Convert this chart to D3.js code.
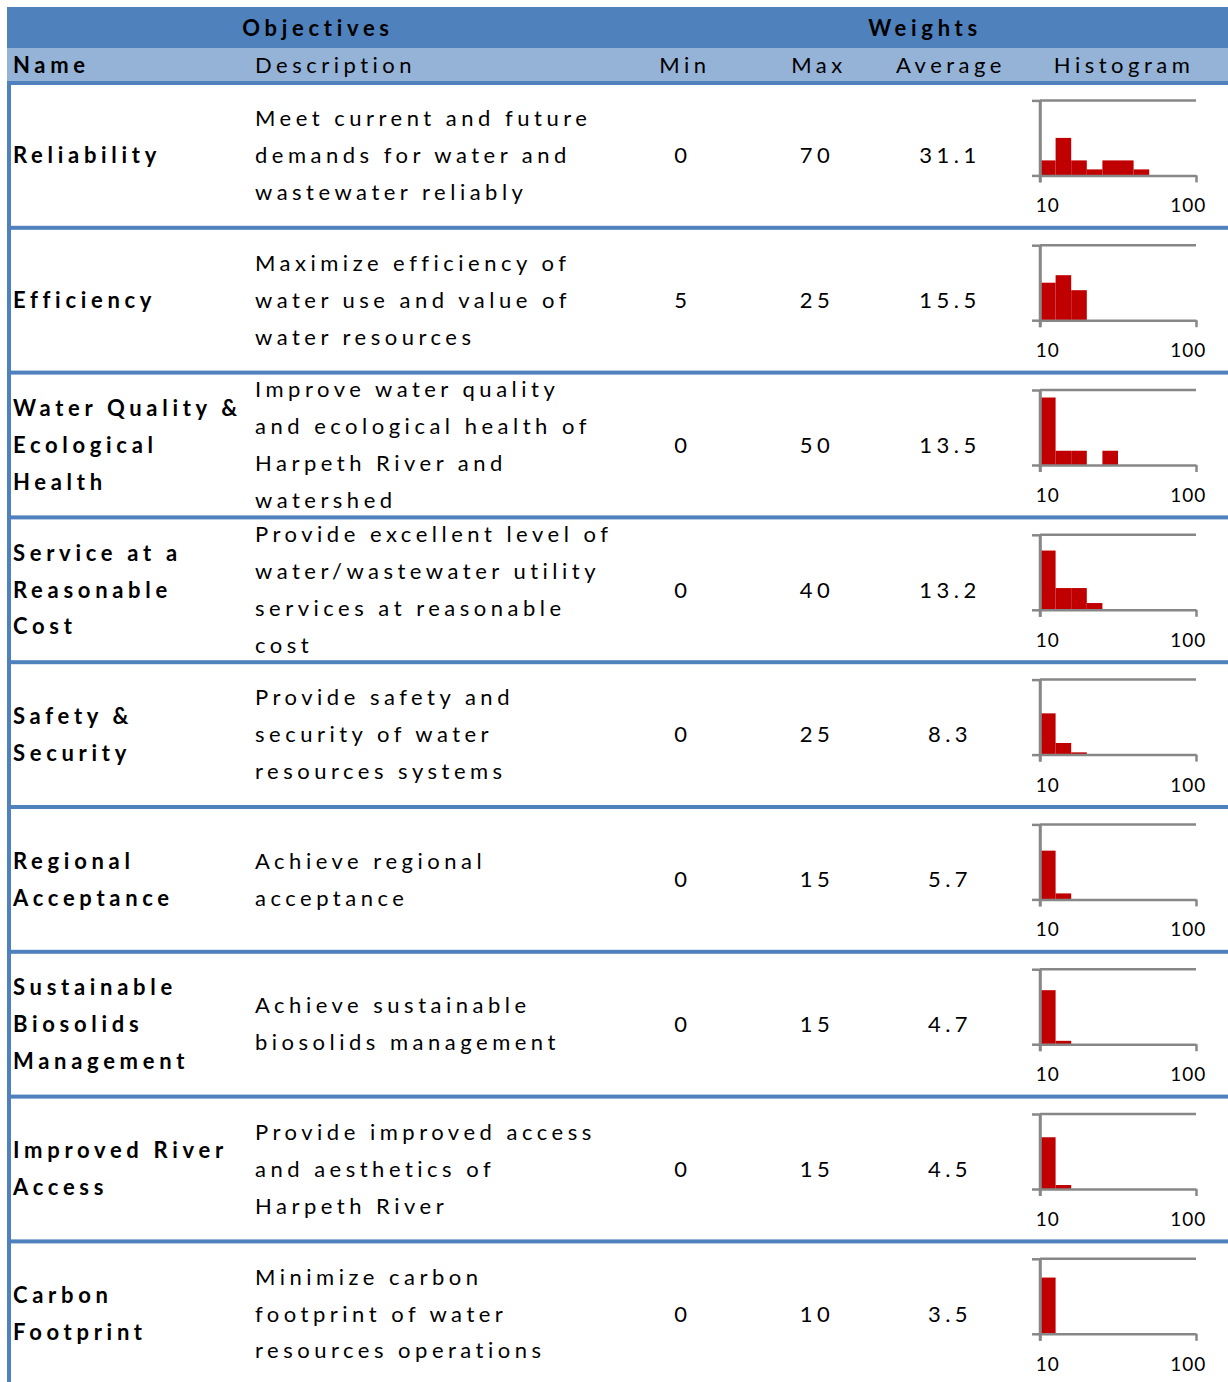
<!DOCTYPE html>
<html lang="en">
<head>
<meta charset="UTF-8">
<title>Objectives and Weights</title>
<script src="https://d3js.org/d3.v7.min.js"></script>
<style>
  body { margin: 0; background: #fff; }
  svg text { font-family: Lato, "Open Sans", sans-serif; fill: #000; }
  .cell { font-size: 22px; letter-spacing: 4.5px; }
  .bold { font-weight: bold; letter-spacing: 4.7px; }
  .tick-label { font-size: 19px; letter-spacing: 1px; }
</style>
</head>
<body>
<div id="table"></div>
<script>
// ---- data ----
const names = [
  ["Reliability"],
  ["Efficiency"],
  ["Water Quality &", "Ecological", "Health"],
  ["Service at a", "Reasonable", "Cost"],
  ["Safety &", "Security"],
  ["Regional", "Acceptance"],
  ["Sustainable", "Biosolids", "Management"],
  ["Improved River", "Access"],
  ["Carbon", "Footprint"]
];
const descriptions = [
  ["Meet current and future", "demands for water and", "wastewater reliably"],
  ["Maximize efficiency of", "water use and value of", "water resources"],
  ["Improve water quality", "and ecological health of", "Harpeth River and", "watershed"],
  ["Provide excellent level of", "water/wastewater utility", "services at reasonable", "cost"],
  ["Provide safety and", "security of water", "resources systems"],
  ["Achieve regional", "acceptance"],
  ["Achieve sustainable", "biosolids management"],
  ["Provide improved access", "and aesthetics of", "Harpeth River"],
  ["Minimize carbon", "footprint of water", "resources operations"]
];
const mins = [0, 5, 0, 0, 0, 0, 0, 0, 0];
const maxs = [70, 25, 50, 40, 25, 15, 15, 15, 10];
const avgs = ["31.1", "15.5", "13.5", "13.2", "8.3", "5.7", "4.7", "4.5", "3.5"];
const binLabels = ["10", "20", "30", "40", "50", "60", "70", "80", "90", "100"];
// share of the histogram's height, per bin
const histograms = [
  [0.20, 0.50, 0.20, 0.08, 0.20, 0.20, 0.08, 0, 0, 0],
  [0.50, 0.60, 0.40, 0, 0, 0, 0, 0, 0, 0],
  [0.90, 0.19, 0.19, 0, 0.19, 0, 0, 0, 0, 0],
  [0.79, 0.29, 0.29, 0.09, 0, 0, 0, 0, 0, 0],
  [0.55, 0.155, 0.03, 0, 0, 0, 0, 0, 0, 0],
  [0.65, 0.08, 0, 0, 0, 0, 0, 0, 0, 0],
  [0.72, 0.045, 0, 0, 0, 0, 0, 0, 0, 0],
  [0.69, 0.053, 0, 0, 0, 0, 0, 0, 0, 0],
  [0.75, 0, 0, 0, 0, 0, 0, 0, 0, 0]
];

const width = 1228, height = 1382;
const darkBlue = "#4F81BD", lightBlue = "#95B3D7", axisGray = "#878787", barRed = "#C00000";
const lineH = 37;
const trail = 2; // letter-spacing leaves a gap after the last glyph; nudge centred text

const svg = d3.select("#table").append("svg")
  .attr("width", width)
  .attr("height", height);

// header bands
svg.append("rect").attr("x", 7).attr("y", 7).attr("width", width - 7).attr("height", 41).attr("fill", darkBlue);
svg.append("rect").attr("x", 7).attr("y", 48).attr("width", width - 7).attr("height", 34).attr("fill", lightBlue);
svg.append("rect").attr("x", 7).attr("y", 81).attr("width", width - 7).attr("height", 4).attr("fill", darkBlue);

svg.append("text").attr("class", "cell bold").attr("x", 316 + trail).attr("y", 28).attr("dy", "0.35em")
  .attr("text-anchor", "middle").text("Objectives");
svg.append("text").attr("class", "cell bold").attr("x", 923 + trail).attr("y", 28).attr("dy", "0.35em")
  .attr("text-anchor", "middle").text("Weights");

const subHeads = [
  { t: "Name", x: 13, a: "start", b: true },
  { t: "Description", x: 255, a: "start", b: false },
  { t: "Min", x: 683 + trail, a: "middle", b: false },
  { t: "Max", x: 817 + trail, a: "middle", b: false },
  { t: "Average", x: 949 + trail, a: "middle", b: false },
  { t: "Histogram", x: 1122 + trail, a: "middle", b: false }
];
svg.selectAll(".subhead").data(subHeads).enter().append("text")
  .attr("class", d => "subhead cell" + (d.b ? " bold" : ""))
  .attr("x", d => d.x).attr("y", 65).attr("dy", "0.35em")
  .attr("text-anchor", d => d.a).text(d => d.t);

// rows
const rowIdx = d3.range(names.length);
const y = d3.scaleBand().domain(rowIdx).range([83, 83 + 144.8 * names.length]).padding(0);

svg.append("rect").attr("x", 7).attr("y", 83).attr("width", 4).attr("height", height - 83).attr("fill", darkBlue);

svg.selectAll(".sep").data(rowIdx).enter().append("rect")
  .attr("class", "sep")
  .attr("x", 7).attr("y", d => y(d) + y.bandwidth() - 2)
  .attr("width", width - 7).attr("height", 4).attr("fill", darkBlue);

const rows = svg.selectAll(".row").data(rowIdx).enter().append("g")
  .attr("class", "row")
  .attr("transform", d => `translate(0,${y(d) + y.bandwidth() / 2})`);

function multiline(sel, lines, x, cls) {
  sel.selectAll("text." + cls.split(" ")[0]).data(lines).enter().append("text")
    .attr("class", "cell " + cls)
    .attr("x", x)
    .attr("y", (d, i) => (i - (lines.length - 1) / 2) * lineH)
    .attr("dy", "0.35em")
    .text(d => d);
}

rows.each(function (i) {
  const g = d3.select(this);
  multiline(g, names[i], 13, "name bold");
  multiline(g, descriptions[i], 255, "desc");
  [[mins[i], 681], [maxs[i], 815], [avgs[i], 948]].forEach(([v, x]) => {
    g.append("text").attr("class", "cell").attr("x", x + trail).attr("y", 0).attr("dy", "0.35em")
      .attr("text-anchor", "middle").text(v);
  });

  // histogram
  const hx = d3.scaleBand().domain(binLabels).range([1040, 1196]).padding(0);
  const hy = d3.scaleLinear().domain([0, 1]).range([20, -55]);
  const h = g.append("g");

  h.selectAll("rect").data(histograms[i]).enter().append("rect")
    .attr("x", (d, k) => hx(binLabels[k]))
    .attr("y", d => hy(d))
    .attr("width", hx.bandwidth())
    .attr("height", d => hy(0) - hy(d))
    .attr("fill", barRed);

  // left axis with ticks at 0 and max, plus top gridline
  const yAxis = h.append("g").attr("transform", "translate(1040,0)")
    .call(d3.axisLeft(hy).tickValues([0, 1]).tickSize(8).tickSizeOuter(0).tickFormat(""));
  h.append("line").attr("x1", 1040).attr("x2", 1196)
    .attr("y1", hy(1)).attr("y2", hy(1))
    .attr("stroke", axisGray).attr("stroke-width", 2.5);

  // bottom axis: ticks at outer edges, labels on first and last bin
  const edge = d3.scaleLinear().domain([0, binLabels.length]).range([1040, 1196]);
  const xAxis = h.append("g").attr("transform", `translate(0,${hy(0)})`)
    .call(d3.axisBottom(edge).tickValues([0, binLabels.length]).tickSize(7).tickSizeOuter(0).tickFormat(""));
  [yAxis, xAxis].forEach(a => {
    a.selectAll("path, line").attr("stroke", axisGray).attr("stroke-width", 2.5);
  });
  h.append("line").attr("x1", 1040).attr("x2", 1040)
    .attr("y1", hy(1)).attr("y2", hy(0) + 7)
    .attr("stroke", axisGray).attr("stroke-width", 2.5);

  h.append("g").attr("transform", `translate(0,${hy(0) + 34})`)
    .call(d3.axisBottom(hx).tickValues([binLabels[0], binLabels[binLabels.length - 1]]).tickSize(0))
    .call(a => a.select(".domain").remove())
    .call(a => a.selectAll("text").attr("class", "tick-label").attr("dy", "0")
      .attr("font-family", null).attr("font-size", null));
});
</script>
</body>
</html>
